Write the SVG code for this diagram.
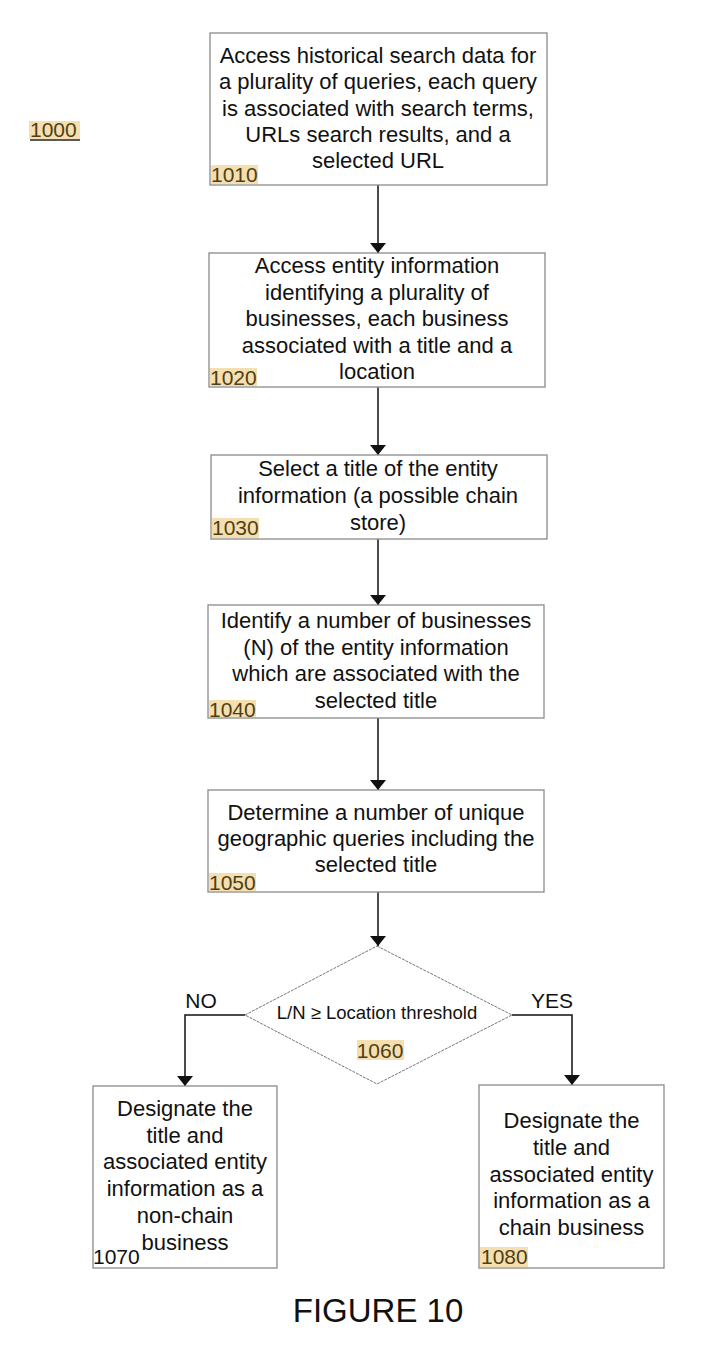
<svg xmlns="http://www.w3.org/2000/svg" width="709" height="1355" viewBox="0 0 709 1355">
<style>
.box{fill:#fff;stroke:#8a8a8a;stroke-width:1.3}
.dia{fill:#fff;stroke:#666;stroke-width:0.9;stroke-dasharray:3 1}
.t{font-family:"Liberation Sans",Arial,sans-serif;font-size:22px;fill:#111;text-anchor:middle}
.s{font-family:"Liberation Sans",Arial,sans-serif;font-size:18.5px;fill:#111;text-anchor:middle}
.yn{font-family:"Liberation Sans",Arial,sans-serif;font-size:21px;fill:#111;text-anchor:middle}
.lb{font-family:"Liberation Sans",Arial,sans-serif;font-size:21px;fill:#4f3f14}
.lbk{font-family:"Liberation Sans",Arial,sans-serif;font-size:21px;fill:#111}
.hl{fill:#f5dfb0}
.edge{fill:none;stroke:#111;stroke-width:1.5}
</style>
<defs>
<marker id="ah" viewBox="0 0 10 16" refX="10" refY="8" markerWidth="10" markerHeight="16" markerUnits="userSpaceOnUse" orient="auto">
<path d="M0,0 L10,8 L0,16 Z" fill="#111"/>
</marker>
</defs>
<rect width="709" height="1355" fill="#fff"/>

<g id="label-1000">
<rect class="hl" x="29" y="121" width="51" height="18"/>
<text class="lb" x="30" y="137">1000</text>
<line x1="30" y1="140" x2="80" y2="140" stroke="#222" stroke-width="1.5"/>
</g>

<g id="connectors">
<path class="edge" d="M378,185 L378,253" marker-end="url(#ah)"/>
<path class="edge" d="M378,387 L378,455" marker-end="url(#ah)"/>
<path class="edge" d="M378,539 L378,605" marker-end="url(#ah)"/>
<path class="edge" d="M378,718 L378,790" marker-end="url(#ah)"/>
<path class="edge" d="M378,892 L378,946" marker-end="url(#ah)"/>
<path class="edge" d="M245,1015 L185,1015 L185,1086" marker-end="url(#ah)"/>
<path class="edge" d="M512,1015 L572,1015 L572,1085" marker-end="url(#ah)"/>
<text class="yn" x="201" y="1008">NO</text>
<text class="yn" x="552" y="1008">YES</text>
</g>

<g id="node-1010">
<rect class="box" x="210" y="33" width="337" height="152"/>
<text class="t" x="378" y="63">Access historical search data for</text>
<text class="t" x="378" y="89.3">a plurality of queries, each query</text>
<text class="t" x="378" y="115.6">is associated with search terms,</text>
<text class="t" x="378" y="141.9">URLs search results, and a</text>
<text class="t" x="378" y="168.2">selected URL</text>
<rect class="hl" x="211" y="165" width="47" height="19"/>
<text class="lb" x="211" y="182">1010</text>
</g>

<g id="node-1020">
<rect class="box" x="209" y="253" width="336" height="134"/>
<text class="t" x="377" y="273">Access entity information</text>
<text class="t" x="377" y="299.6">identifying a plurality of</text>
<text class="t" x="377" y="326.2">businesses, each business</text>
<text class="t" x="377" y="352.8">associated with a title and a</text>
<text class="t" x="377" y="379.4">location</text>
<rect class="hl" x="210" y="368" width="47" height="18"/>
<text class="lb" x="210" y="385">1020</text>
</g>

<g id="node-1030">
<rect class="box" x="211" y="455" width="336" height="84"/>
<text class="t" x="378" y="476">Select a title of the entity</text>
<text class="t" x="378" y="503">information (a possible chain</text>
<text class="t" x="378" y="530">store)</text>
<rect class="hl" x="212" y="518" width="47" height="20"/>
<text class="lb" x="212" y="535">1030</text>
</g>

<g id="node-1040">
<rect class="box" x="208" y="605" width="336" height="113"/>
<text class="t" x="376" y="628">Identify a number of businesses</text>
<text class="t" x="376" y="654.7">(N) of the entity information</text>
<text class="t" x="376" y="681.3">which are associated with the</text>
<text class="t" x="376" y="708">selected title</text>
<rect class="hl" x="209" y="700" width="47" height="17"/>
<text class="lb" x="209" y="717">1040</text>
</g>

<g id="node-1050">
<rect class="box" x="208" y="790" width="336" height="102"/>
<text class="t" x="376" y="820">Determine a number of unique</text>
<text class="t" x="376" y="846">geographic queries including the</text>
<text class="t" x="376" y="872">selected title</text>
<rect class="hl" x="209" y="873" width="47" height="18"/>
<text class="lb" x="209" y="890">1050</text>
</g>

<g id="node-1060">
<polygon class="dia" points="377,946 512,1015 377,1084 245,1015"/>
<text class="s" x="377" y="1019">L/N ≥ Location threshold</text>
<rect class="hl" x="357" y="1040" width="47" height="20"/>
<text class="lb" x="380" y="1058" text-anchor="middle">1060</text>
</g>

<g id="node-1070">
<rect class="box" x="93" y="1086" width="184" height="182"/>
<text class="t" x="185" y="1116">Designate the</text>
<text class="t" x="185" y="1143">title and</text>
<text class="t" x="185" y="1169">associated entity</text>
<text class="t" x="185" y="1196">information as a</text>
<text class="t" x="185" y="1223">non-chain</text>
<text class="t" x="185" y="1250">business</text>
<text class="lbk" x="93" y="1264">1070</text>
</g>

<g id="node-1080">
<rect class="box" x="479" y="1085" width="185" height="183"/>
<text class="t" x="571.5" y="1128">Designate the</text>
<text class="t" x="571.5" y="1155">title and</text>
<text class="t" x="571.5" y="1182">associated entity</text>
<text class="t" x="571.5" y="1208">information as a</text>
<text class="t" x="571.5" y="1235">chain business</text>
<rect class="hl" x="480" y="1247" width="48" height="20"/>
<text class="lb" x="481" y="1264">1080</text>
</g>

<text x="378" y="1322" font-family="'Liberation Sans',Arial,sans-serif" font-size="33" fill="#111" text-anchor="middle">FIGURE 10</text>
</svg>
